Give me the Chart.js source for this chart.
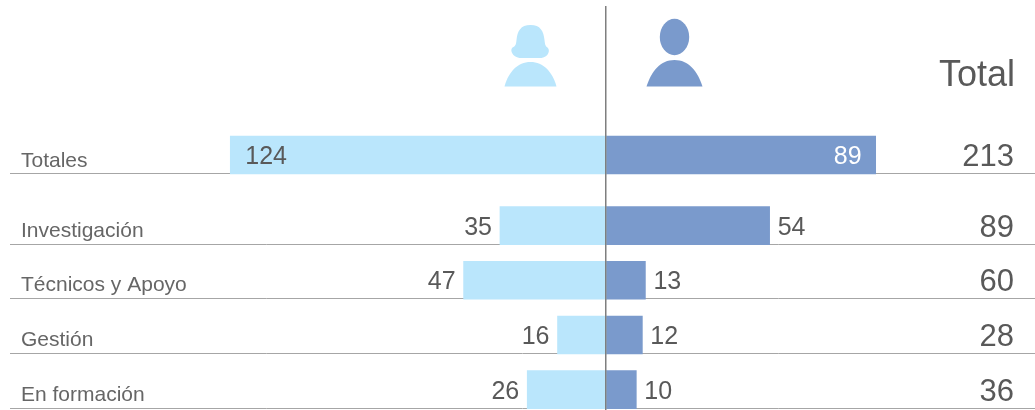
<!DOCTYPE html>
<html><head><meta charset="utf-8">
<style>html,body{margin:0;padding:0;background:#fff}#w{width:1035px;height:410px;position:relative}canvas{display:block}</style>
<script src="https://cdn.jsdelivr.net/npm/chart.js@4/dist/chart.umd.min.js"></script>
</head><body><div id="w"><canvas id="c" width="1035" height="410"></canvas></div>
<script>
const categories = ['Totales','Investigación','Técnicos y Apoyo','Gestión','En formación'];
const mujeres = [124,35,47,16,26];
const hombres = [89,54,13,12,10];
const totales = [213,89,60,28,36];
const totalTitle = 'Total';
const rowOrder = [0,1.29,2.29,3.29,4.29];

const FEMALE='#BAE6FC', MALE='#7A9ACC', TXT='#595959', FONT='"Liberation Sans", Arial, sans-serif';

function person(ctx, female, cx){
  ctx.save();
  ctx.fillStyle = female ? FEMALE : MALE;
  if(female){
    ctx.beginPath();
    ctx.moveTo(cx-26,86.5);
    ctx.bezierCurveTo(cx-22,72,cx-13,62,cx,62);
    ctx.bezierCurveTo(cx+13,62,cx+22,72,cx+26,86.5);
    ctx.closePath();ctx.fill();
    ctx.beginPath();
    ctx.moveTo(cx,25);
    ctx.bezierCurveTo(cx+10,25,cx+13,31,cx+14,40);
    ctx.bezierCurveTo(cx+14.5,45,cx+15,46,cx+17,47.5);
    ctx.bezierCurveTo(cx+20,50,cx+18,57,cx+11,58);
    ctx.lineTo(cx-11,58);
    ctx.bezierCurveTo(cx-18,57,cx-21,50,cx-18,47.5);
    ctx.bezierCurveTo(cx-15,46,cx-14.5,45,cx-14,40);
    ctx.bezierCurveTo(cx-13,31,cx-10,25,cx,25);
    ctx.closePath();ctx.fill();
  } else {
    ctx.beginPath();
    ctx.ellipse(cx,37,14.7,18.2,0,0,Math.PI*2);ctx.fill();
    ctx.beginPath();
    ctx.moveTo(cx-28,86.5);
    ctx.bezierCurveTo(cx-23,71,cx-14,60,cx,60);
    ctx.bezierCurveTo(cx+14,60,cx+23,71,cx+28,86.5);
    ctx.closePath();ctx.fill();
  }
  ctx.restore();
}

const decor = {
  id:'decor',
  beforeDatasetsDraw(chart){
    const {ctx,scales:{x,y}} = chart;
    ctx.save();
    ctx.strokeStyle='#A6A6A6';ctx.lineWidth=1;
    const half = 19;
    rowOrder.forEach(r=>{
      const py = Math.round(y.getPixelForValue(r)+half)-0.5;
      ctx.beginPath();ctx.moveTo(10,py);ctx.lineTo(1035,py);ctx.stroke();
    });
    ctx.restore();
  },
  afterDatasetsDraw(chart){
    const {ctx,scales:{x,y}} = chart;
    const m0=chart.getDatasetMeta(0).data, m1=chart.getDatasetMeta(1).data;
    ctx.save();
    ctx.textBaseline='alphabetic';
    categories.forEach((c,i)=>{
      const cy=y.getPixelForValue(rowOrder[i]);
      ctx.fillStyle='#666666';ctx.font='21px '+FONT;ctx.textAlign='left';
      ctx.fillText(c,21,cy+(i===0?12:11));
      ctx.font='25px '+FONT;
      if(i===0){
        ctx.fillStyle=TXT;ctx.textAlign='left';
        ctx.fillText(mujeres[i],m0[i].x+15,cy+9);
        ctx.fillStyle='#FFFFFF';ctx.textAlign='right';
        ctx.fillText(hombres[i],m1[i].x-14,cy+9);
      } else {
        ctx.fillStyle=TXT;ctx.textAlign='right';
        ctx.fillText(mujeres[i],m0[i].x-8,cy+9);
        ctx.textAlign='left';
        ctx.fillText(hombres[i],m1[i].x+8,cy+9);
      }
      ctx.font='31px '+FONT;ctx.textAlign='right';ctx.fillStyle=TXT;
      ctx.fillText(totales[i],1014,cy+11);
    });
    ctx.font='36px '+FONT;ctx.textAlign='right';ctx.fillStyle=TXT;
    ctx.fillText(totalTitle,1015,86);
    const zx=Math.round(x.getPixelForValue(0))-0.25;
    ctx.strokeStyle='#7F7F7F';ctx.lineWidth=1.5;
    ctx.beginPath();ctx.moveTo(zx,6);ctx.lineTo(zx,410);ctx.stroke();
    person(ctx,true,530.5);
    person(ctx,false,674.5);
    ctx.restore();
  }
};

new Chart(document.getElementById('c'),{
  type:'bar',
  data:{datasets:[
    {label:'Mujeres',data:mujeres.map((v,i)=>({x:-v,y:rowOrder[i]})),backgroundColor:FEMALE,barThickness:38,borderWidth:0},
    {label:'Hombres',data:hombres.map((v,i)=>({x:v,y:rowOrder[i]})),backgroundColor:MALE,barThickness:38,borderWidth:0}
  ]},
  options:{
    indexAxis:'y',responsive:false,animation:false,
    layout:{padding:0},
    plugins:{legend:{display:false},tooltip:{enabled:false},title:{display:false}},
    scales:{
      x:{type:'linear',stacked:true,display:false,min:-200,max:141.58},
      y:{type:'linear',stacked:true,display:false,reverse:true,offset:false,min:-2.834,max:4.662}
    }
  },
  plugins:[decor]
});
</script></body></html>
